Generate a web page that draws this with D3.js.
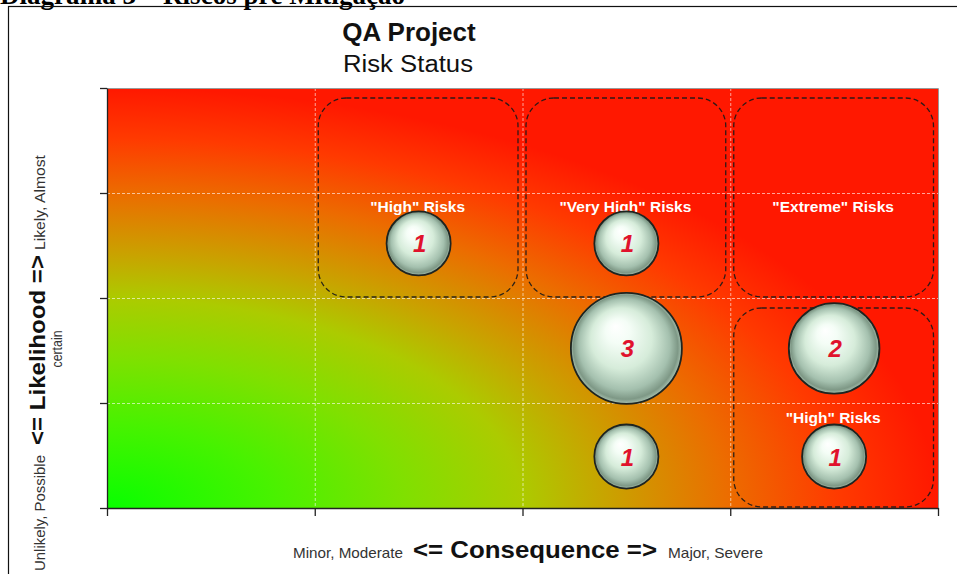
<!DOCTYPE html>
<html>
<head>
<meta charset="utf-8">
<script src="https://cdn.jsdelivr.net/npm/d3@7"></script>
<style>
  html, body { margin: 0; padding: 0; background: #fff; }
  svg { display: block; }
</style>
</head>
<body>
<svg id="chart" width="957" height="574"></svg>
<script>
// ---- data ----
const headerText = "Diagrama 3 – Riscos pré Mitigação";
const chartTitle = "QA Project";
const chartSubtitle = "Risk Status";
const xTicks = [0, 1, 2, 3, 4];
const yTicks = [0, 1, 2, 3, 4];
const consequence = [1.5, 2.5, 2.5, 2.5, 3.5, 3.5];
const likelihood  = [2.52, 2.52, 1.52, 0.49, 1.52, 0.49];
const riskCount   = [1, 1, 3, 1, 2, 1];
const zoneNames = ['"High" Risks', '"Very High" Risks', '"Extreme" Risks', '"High" Risks'];
const zoneX0 = [1, 2, 3, 3];
const zoneX1 = [2, 3, 4, 4];
const zoneY0 = [2, 2, 2, 0];
const zoneY1 = [4, 4, 4, 2];
const zoneLabelY = [2.82, 2.82, 2.82, 0.81];
const xLabelParts = ["Minor, Moderate", "<= Consequence =>", "Major, Severe"];
const yLabelParts = ["Unlikely, Possible", "<= Likelihood =>", "Likely, Almost"];
const yLabelWrap = "certain";

// ---- layout ----
const svg = d3.select("#chart");
const L = 107, R = 938, T = 88, B = 508;
const x = d3.scaleLinear().domain([0, 4]).range([L, R]);
const y = d3.scaleLinear().domain([0, 4]).range([B, T]);
const rScale = d3.scaleSqrt().domain([0, 3]).range([0, 55.5]);
const sans = "'Liberation Sans', Arial, sans-serif";

// header (cut off at top, as in the source)
svg.append("text").attr("x", 0).attr("y", 4)
  .attr("font-family", "'Liberation Serif', 'Times New Roman', serif")
  .attr("font-weight", "bold").attr("font-size", 27).attr("fill", "#000")
  .attr("textLength", 405).attr("lengthAdjust", "spacingAndGlyphs")
  .text(headerText);

// outer frame
svg.append("rect").attr("x", 8.5).attr("y", 6.5).attr("width", 1000).attr("height", 1000)
  .attr("fill", "none").attr("stroke", "#111").attr("stroke-width", 1.2);

// defs
const defs = svg.append("defs");
const bg = defs.append("radialGradient").attr("id", "bgGrad")
  .attr("cx", 0).attr("cy", 1).attr("r", 1).attr("fx", 0).attr("fy", 1);
[[0, "#08ff00"], [0.2, "#48f200"], [0.36, "#80e000"], [0.5, "#accb00"], [0.6, "#c8a400"],
 [0.75, "#ec6c00"], [0.88, "#ff3a00"], [1, "#ff1800"]].forEach(s =>
  bg.append("stop").attr("offset", s[0]).attr("stop-color", s[1]));

const ball = defs.append("radialGradient").attr("id", "ballGrad")
  .attr("cx", 0.5).attr("cy", 0.5).attr("r", 0.5).attr("fx", 0.4).attr("fy", 0.3);
[[0, "#ffffff"], [0.22, "#f4fdf6"], [0.55, "#d6ecda"], [0.82, "#a4c0ae"], [0.94, "#7e9886"], [1, "#a8c2b0"]]
  .forEach(s => ball.append("stop").attr("offset", s[0]).attr("stop-color", s[1]));

// background
svg.append("rect").attr("x", L).attr("y", T).attr("width", R - L).attr("height", B - T)
  .attr("fill", "url(#bgGrad)");

// gridlines
const grid = svg.append("g").attr("stroke", "#fff").attr("stroke-opacity", 0.6)
  .attr("stroke-dasharray", "3,2").attr("stroke-width", 1);
grid.selectAll(".gx").data(xTicks.slice(1, -1)).join("line")
  .attr("x1", d => x(d) + 0.5).attr("x2", d => x(d) + 0.5).attr("y1", T).attr("y2", B);
grid.selectAll(".gy").data(yTicks.slice(1, -1)).join("line")
  .attr("y1", d => y(d) + 0.5).attr("y2", d => y(d) + 0.5).attr("x1", L).attr("x2", R);

// plot border (top/right light)
svg.append("path").attr("d", `M${L},${T + 0.5}H${R + 0.5}V${B}`)
  .attr("fill", "none").attr("stroke", "#999").attr("stroke-width", 1);

// zones
const zones = zoneNames.map((n, i) => ({ n, x0: zoneX0[i], x1: zoneX1[i], y0: zoneY0[i], y1: zoneY1[i], ly: zoneLabelY[i] }));
svg.append("g").selectAll("rect").data(zones).join("rect")
  .attr("x", d => x(d.x0) + 3.5)
  .attr("y", d => y(d.y1) + 10)
  .attr("width", d => x(d.x1) - x(d.x0) - 8)
  .attr("height", d => y(d.y0) - y(d.y1) - 11)
  .attr("rx", 28).attr("ry", 28)
  .attr("fill", "none").attr("stroke", "#1a1a1a").attr("stroke-opacity", 0.9)
  .attr("stroke-width", 1.3).attr("stroke-dasharray", "5,3");

svg.append("g").selectAll("text").data(zones).join("text")
  .attr("x", d => x((d.x0 + d.x1) / 2) - 1)
  .attr("y", d => y(d.ly))
  .attr("text-anchor", "middle").attr("font-family", sans).attr("font-weight", "bold")
  .attr("font-size", 15.5).attr("fill", "#fff")
  .text(d => d.n);

// axes
const yAxis = d3.axisLeft(y).tickValues(yTicks).tickFormat("").tickSizeInner(7).tickSizeOuter(0);
const xAxis = d3.axisBottom(x).tickValues(xTicks).tickFormat("").tickSizeInner(8).tickSizeOuter(0);
const ya = svg.append("g").attr("transform", `translate(${L},0)`).call(yAxis);
const xa = svg.append("g").attr("transform", `translate(0,${B})`).call(xAxis);
[ya, xa].forEach(g => { g.selectAll("path,line").attr("stroke", "#222").attr("stroke-width", 1.3); });

// bubbles
const pts = consequence.map((c, i) => ({ c, l: likelihood[i], n: riskCount[i] }));
const bubbles = svg.append("g");
bubbles.selectAll("circle").data(pts).join("circle")
  .attr("cx", d => x(d.c)).attr("cy", d => y(d.l)).attr("r", d => rScale(d.n))
  .attr("fill", "url(#ballGrad)").attr("stroke", "#1e2420").attr("stroke-width", 1.8);
bubbles.selectAll("text").data(pts).join("text")
  .attr("x", d => x(d.c) + 1).attr("y", d => y(d.l) + 9)
  .attr("text-anchor", "middle").attr("font-family", sans)
  .attr("font-weight", "bold").attr("font-style", "italic").attr("font-size", 24)
  .attr("fill", "#e0122c")
  .text(d => d.n);

// titles
svg.append("text").attr("x", 409).attr("y", 41).attr("text-anchor", "middle")
  .attr("font-family", sans).attr("font-weight", "bold").attr("font-size", 26).attr("fill", "#111")
  .text(chartTitle);
svg.append("text").attr("x", 408).attr("y", 72).attr("text-anchor", "middle")
  .attr("font-family", sans).attr("font-size", 23).attr("fill", "#111")
  .attr("textLength", 130).attr("lengthAdjust", "spacingAndGlyphs")
  .text(chartSubtitle);

// x label: three pieces (start x, length, size, bold)
const xPieces = [[293, 110, 14.5, false], [413, 244, 24, true], [668, 95, 14.5, false]];
svg.append("g").selectAll("text").data(xLabelParts).join("text")
  .attr("x", (d, i) => xPieces[i][0]).attr("y", 558)
  .attr("font-family", sans)
  .attr("font-size", (d, i) => xPieces[i][2])
  .attr("font-weight", (d, i) => xPieces[i][3] ? "bold" : "normal")
  .attr("fill", (d, i) => xPieces[i][3] ? "#111" : "#333")
  .attr("textLength", (d, i) => xPieces[i][1]).attr("lengthAdjust", "spacingAndGlyphs")
  .text(d => d);

// y label (rotated): start y (bottom), length, size, bold
const yPieces = [[571, 116, 14.5, false], [445, 190, 22, true], [250, 95, 14.5, false]];
svg.append("g").selectAll("text").data(yLabelParts).join("text")
  .attr("transform", (d, i) => `translate(45,${yPieces[i][0]}) rotate(-90)`)
  .attr("font-family", sans)
  .attr("font-size", (d, i) => yPieces[i][2])
  .attr("font-weight", (d, i) => yPieces[i][3] ? "bold" : "normal")
  .attr("fill", (d, i) => yPieces[i][3] ? "#111" : "#333")
  .attr("textLength", (d, i) => yPieces[i][1]).attr("lengthAdjust", "spacingAndGlyphs")
  .text(d => d);
svg.append("text").attr("transform", "translate(62,349) rotate(-90)")
  .attr("text-anchor", "middle").attr("font-family", sans).attr("font-size", 14.5).attr("fill", "#333")
  .attr("textLength", 37).attr("lengthAdjust", "spacingAndGlyphs")
  .text(yLabelWrap);
</script>
</body>
</html>
